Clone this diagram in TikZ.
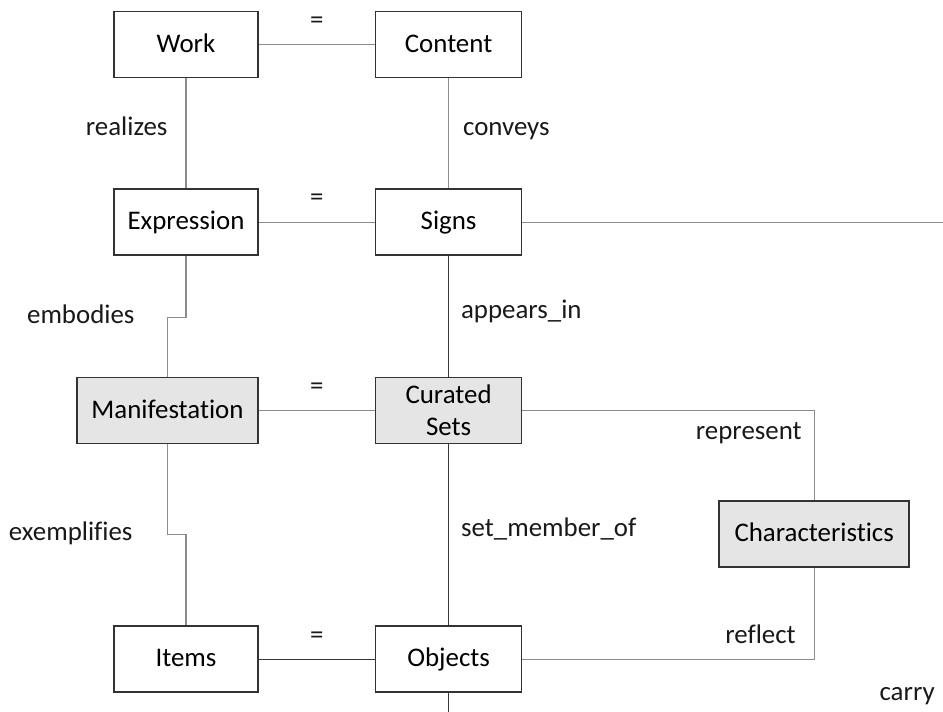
\documentclass[tikz,border=0pt]{standalone}
\usepackage{fontspec}
\setmainfont[Ligatures=NoCommon]{Carlito}
\usetikzlibrary{positioning}

\begin{document}
\begin{tikzpicture}[
	box/.style={rectangle, draw=black!80, line width=0.9pt, minimum width=2.88cm, minimum height=1.32cm, align=center, inner sep=2pt, font=\fontsize{15.3}{18.2}\selectfont},
	entity/.style={box, text height=2.25ex, text depth=0.45ex},
	shaded/.style={entity, fill=black!10},
	link/.style={draw=black!45, line width=0.6pt},
	darklink/.style={draw=black!78, line width=0.6pt},
	rel/.style={inner sep=0pt, text height=1.85ex, text depth=0.45ex, text=black!90, font=\fontsize{15.3}{18.2}\selectfont}
	]
	
	\useasboundingbox (-3.72,0.89) rectangle (15.14,-13.35);
	
	% Levá řada: Work, Expression, Manifestation, Items
	\node[entity] (work) {Work};
	\node[entity, below=2.2cm of work] (expr) {Expression};
	\node[shaded, minimum width=3.62cm, below=2.42cm of expr.south east, anchor=north east] (manif) {Manifestation};
	\node[entity, below=3.62cm of manif.south east, anchor=north east] (items) {Items};
	
	% Pravá řada: Content, Signs, Curated Sets, Objects
	\node[entity, minimum width=2.92cm, right=2.32cm of work] (content) {Content};
	\node[entity, minimum width=2.92cm, below=2.2cm of content] (signs) {Signs};
	\node[box, fill=black!10, minimum width=2.92cm, below=2.42cm of signs] (curated) {Curated\\Sets};
	\node[entity, minimum width=2.92cm, right=2.32cm of items] (objects) {Objects};
	
	% Characteristics vpravo
	\node[shaded, minimum width=3.8cm, below right=1.12cm and 3.92cm of curated] (char) {Characteristics};
	
	% volné konce čar
	\coordinate[right=8.46cm of signs.east] (signsout);
	\coordinate[below=0.48cm of objects.south] (objout);
	
	% Vodorovné spoje "="
	\draw[link] (work) -- node[rel, midway, yshift=0.44cm]{=} (content);
	\draw[link] (expr) -- node[rel, midway, yshift=0.44cm]{=} (signs);
	\draw[link] (manif) -- node[rel, midway, yshift=0.44cm]{=} (curated);
	\draw[darklink] (items) -- node[rel, midway, yshift=0.44cm]{=} (objects);
	
	% Svislé spoje vlevo
	\draw[link] (work) -- node[rel, midway, left, xshift=-0.36cm, yshift=0.08cm]{realizes} (expr);
	\draw[link] (expr.south) -- ++(0,-1.23) -| node[rel, pos=0.5, left, xshift=-0.65cm]{embodies} (manif.north);
	\draw[link] (manif.south) -- ++(0,-1.81) node[rel, left, xshift=-0.69cm]{exemplifies} -| (items.north);
	
	% Svislé spoje vpravo
	\draw[link] (content) -- node[rel, midway, right, xshift=0.28cm, yshift=0.08cm]{conveys} (signs);
	\draw[darklink] (signs) -- node[rel, midway, right, xshift=0.24cm, yshift=0.08cm]{appears\_in} (curated);
	\draw[darklink] (curated) -- node[rel, midway, right, xshift=0.24cm, yshift=0.08cm]{set\_member\_of} (objects);
	
	% Spoje k Characteristics
	\draw[link] (curated.east) -| node[rel, pos=0.5, anchor=east, xshift=-0.24cm, yshift=-0.46cm]{represent} (char.north);
	\draw[link] (objects.east) -| node[rel, pos=0.5, anchor=east, xshift=-0.36cm, yshift=0.44cm]{reflect} (char.south);
	
	% Čáry ven z obrázku
	\draw[link] (signs.east) -- (signsout);
	\draw[darklink] (objects.south) -- (objout);
	\node[rel, anchor=east] (carry) at (14.98,-13.01) {carry};
	
\end{tikzpicture}
\end{document}
